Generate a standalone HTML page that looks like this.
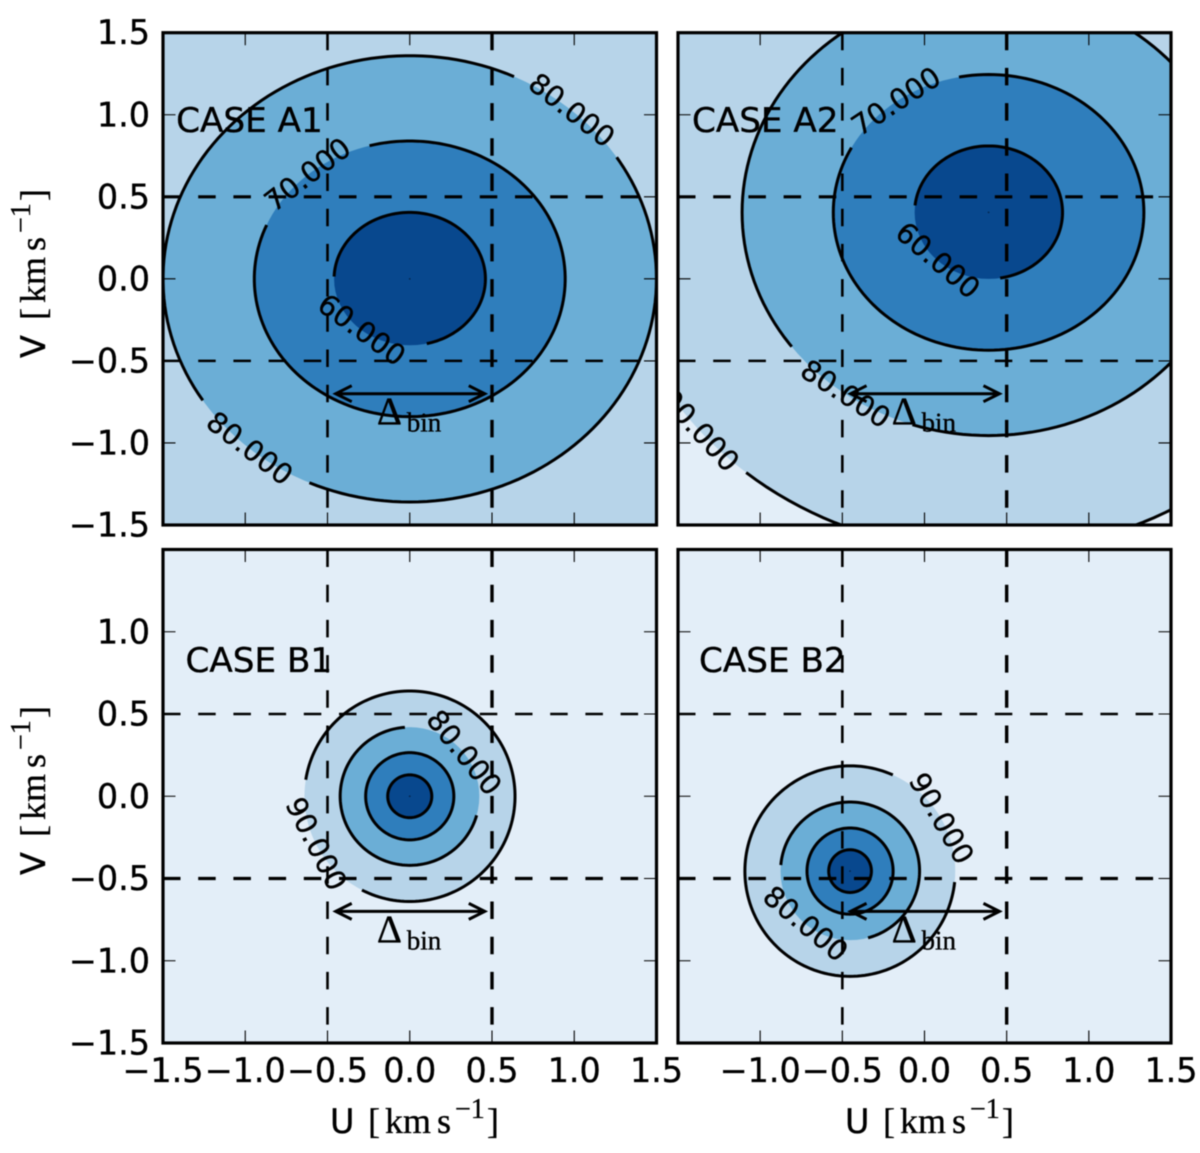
<!DOCTYPE html>
<html lang="en">
<head>
<meta charset="utf-8">
<title>Velocity distribution contour panels</title>
<style>
html,body{margin:0;padding:0;background:#fff;width:1200px;height:1153px;overflow:hidden}
svg{display:block;filter:blur(0.45px)}
text{stroke:#000;stroke-width:0.35px}
.tick{font-family:"DejaVu Sans","Liberation Sans",sans-serif;font-size:33.4px;fill:#000}
.case{font-family:"DejaVu Sans","Liberation Sans",sans-serif;font-size:34.2px;fill:#000}
.clab{font-family:"DejaVu Sans","Liberation Sans",sans-serif;font-size:28.5px;fill:#000}
.roman{font-family:"DejaVu Sans","Liberation Sans",sans-serif;font-size:33.4px;fill:#000}
.serif{font-family:"Liberation Serif",serif;fill:#000}
</style>
</head>
<body>
<svg id="chart" xmlns="http://www.w3.org/2000/svg" width="1200" height="1153" viewBox="0 0 1200 1153">
  <rect x="0" y="0" width="1200" height="1153" fill="#fff"/>
</svg>
<script>
// ---- chart data (data units: km/s, contour levels, ellipse angles in degrees) ----
const levelValues = [90, 80, 70, 60];
const levelColors = ['#b7d4e9', '#6baed6', '#2f7ebc', '#08488e'];
const backgroundColor = '#e3eef8';

const caseA1Center = [0, 0];
const caseA1Rx = [2.295, 1.5, 0.945, 0.46];
const caseA1Ry = [2.07, 1.36, 0.84, 0.405];
const caseA1Gaps = [[], [[33, 65], [213, 246]], [[105, 157]], [[178, 283]]];

const caseA2Center = [0.39, 0.405];
const caseA2Rx = [2.295, 1.5, 0.945, 0.45];
const caseA2Ry = [2.07, 1.36, 0.84, 0.405];
const caseA2Gaps = [[[210, 230]], [[217, 252]], [[101, 152]], [[174, 279]]];

const caseB1Center = [0, 0];
const caseB1Rx = [0.64, 0.423, 0.268, 0.134];
const caseB1Ry = [0.64, 0.42, 0.265, 0.13];
const caseB1Gaps = [[[171, 243]], [[344, 454]], [], []];

const caseB2Center = [-0.453, -0.455];
const caseB2Rx = [0.64, 0.423, 0.262, 0.13];
const caseB2Ry = [0.64, 0.42, 0.262, 0.13];
const caseB2Gaps = [[[-6, 66]], [[175, 285]], [], []];

const tickValues = [-1.0, -0.5, 0, 0.5, 1.0];
const guideValues = [-0.5, 0.5];
const yLabelsTop = [1.5, 1.0, 0.5, 0, -0.5, -1.0, -1.5];
const yLabelsBottom = [1.0, 0.5, 0, -0.5, -1.0, -1.5];
const xLabelsLeft = [-1.5, -1.0, -0.5, 0, 0.5, 1.0, 1.5];
const xLabelsRight = [-1.0, -0.5, 0, 0.5, 1.0, 1.5];
const binArrowU = [-0.45, 0.456];
const binArrowV = -0.7;

const panels = [
  {id:'a1', title:'CASE A1', x:163, y:32.7, w:493.5, h:492.3, heavyGuide:0.5, center:caseA1Center, rx:caseA1Rx, ry:caseA1Ry, gaps:caseA1Gaps, titlePos:[-1.42, 0.896], yLabels:yLabelsTop, xLabels:[]},
  {id:'a2', title:'CASE A2', x:678, y:32.7, w:493, h:492.3, heavyGuide:0.5, center:caseA2Center, rx:caseA2Rx, ry:caseA2Ry, gaps:caseA2Gaps, titlePos:[-1.415, 0.896], yLabels:[], xLabels:[]},
  {id:'b1', title:'CASE B1', x:163, y:549.5, w:493.5, h:493.5, heavyGuide:-0.5, center:caseB1Center, rx:caseB1Rx, ry:caseB1Ry, gaps:caseB1Gaps, titlePos:[-1.363, 0.755], yLabels:yLabelsBottom, xLabels:xLabelsLeft},
  {id:'b2', title:'CASE B2', x:678, y:549.5, w:493, h:493.5, heavyGuide:-0.5, center:caseB2Center, rx:caseB2Rx, ry:caseB2Ry, gaps:caseB2Gaps, titlePos:[-1.372, 0.755], yLabels:[], xLabels:xLabelsRight}
];

const NS = 'http://www.w3.org/2000/svg';
const svg = document.getElementById('chart');
function mk(tag, attrs, parent, txt) {
  const e = document.createElementNS(NS, tag);
  for (const k in attrs) e.setAttribute(k, attrs[k]);
  if (txt !== undefined) e.textContent = txt;
  (parent || svg).appendChild(e);
  return e;
}
function fmt(v) { return v.toFixed(1).replace('-', '\u2212'); }
function xScale(p, u) { return p.x + (u + 1.5) * p.w / 3; }
function yScale(p, v) { return p.y + (1.5 - v) * p.h / 3; }
function ellipsePoint(p, i, deg) {
  const t = deg * Math.PI / 180;
  return [xScale(p, p.center[0] + p.rx[i] * Math.cos(t)), yScale(p, p.center[1] + p.ry[i] * Math.sin(t))];
}
function arcPath(p, i, from, to) {
  let d = '';
  for (let a = from; a < to; a += 2) {
    const q = ellipsePoint(p, i, a);
    d += (d ? 'L' : 'M') + q[0].toFixed(2) + ' ' + q[1].toFixed(2);
  }
  const e = ellipsePoint(p, i, to);
  return d + 'L' + e[0].toFixed(2) + ' ' + e[1].toFixed(2);
}

const defs = mk('defs', {});
panels.forEach(function (p) {
  const cp = mk('clipPath', {id: 'clip-' + p.id}, defs);
  mk('rect', {x: p.x, y: p.y, width: p.w, height: p.h}, cp);

  const group = mk('g', {});
  
  

  const inner = mk('g', {'clip-path': 'url(#clip-' + p.id + ')'}, group);
  
  

  const bg = mk('rect', {x: p.x, y: p.y, width: p.w, height: p.h, fill: backgroundColor}, inner);
  
  

  // filled contour bands
  levelValues.forEach(function (lev, i) {
    const f = mk('ellipse', {
      cx: xScale(p, p.center[0]), cy: yScale(p, p.center[1]),
      rx: p.rx[i] * p.w / 3, ry: p.ry[i] * p.h / 3, fill: levelColors[i]
    }, inner);
    
    
  });

  // contour lines with gaps for labels
  levelValues.forEach(function (lev, i) {
    const gaps = p.gaps[i];
    let d = '';
    if (!gaps.length) {
      d = arcPath(p, i, 0, 360) + 'Z';
    } else {
      gaps.forEach(function (g, k) {
        const next = k + 1 < gaps.length ? gaps[k + 1][0] : gaps[0][0] + 360;
        d += arcPath(p, i, g[1], next);
      });
    }
    const line = mk('path', {d: d, fill: 'none', stroke: '#000', 'stroke-width': 3}, inner);
    
    
  });

  // centre point
  const dot = mk('circle', {cx: xScale(p, p.center[0]), cy: yScale(p, p.center[1]), r: 0.9, fill: '#05264d'}, inner);
  
  

  // bin guide lines
  guideValues.forEach(function (v) {
    const h = mk('line', {x1: p.x, x2: p.x + p.w, y1: yScale(p, v), y2: yScale(p, v), stroke: '#000', 'stroke-width': v === p.heavyGuide ? 3.2 : 2.5, 'stroke-dasharray': '17.5 17.7'}, inner);
    
    
    const w = mk('line', {x1: xScale(p, v), x2: xScale(p, v), y1: p.y, y2: p.y + p.h, stroke: '#000', 'stroke-width': v > 0 ? 3.4 : 2.6, 'stroke-dasharray': '17.5 17.7'}, inner);
    
    
  });

  // contour labels placed at each gap midpoint, along the contour tangent
  levelValues.forEach(function (lev, i) {
    p.gaps[i].forEach(function (g) {
      const mid = (g[0] + g[1]) / 2;
      const t = mid * Math.PI / 180;
      const q = ellipsePoint(p, i, mid);
      let ang = Math.atan2(-p.ry[i] * Math.cos(t), -p.rx[i] * Math.sin(t)) * 180 / Math.PI;
      if (ang > 90) ang -= 180;
      if (ang <= -90) ang += 180;
      const lbl = mk('text', {
        class: 'clab', x: q[0], y: q[1], 'text-anchor': 'middle', 'dominant-baseline': 'central',
        transform: 'rotate(' + ang.toFixed(1) + ' ' + q[0].toFixed(1) + ' ' + q[1].toFixed(1) + ')'
      }, inner, lev.toFixed(3));
      
      
    });
  });

  // bin width arrow
  const ay = yScale(p, binArrowV), a0 = xScale(p, binArrowU[0]), a1 = xScale(p, binArrowU[1]);
  const arrow = mk('path', {
    d: 'M' + a0 + ' ' + ay + 'L' + a1 + ' ' + ay +
       'M' + (a0 + 16) + ' ' + (ay - 8) + 'L' + a0 + ' ' + ay + 'L' + (a0 + 16) + ' ' + (ay + 8) +
       'M' + (a1 - 16) + ' ' + (ay - 8) + 'L' + a1 + ' ' + ay + 'L' + (a1 - 16) + ' ' + (ay + 8),
    fill: 'none', stroke: '#000', 'stroke-width': 3
  }, group);
  
  

  const dl = mk('text', {class: 'serif', x: xScale(p, -0.2), y: ay + 30.5, 'font-size': 39}, group, '\u0394');
  
  
  const bn = mk('text', {class: 'serif', x: xScale(p, -0.018), y: ay + 38, 'font-size': 27}, group, 'bin');
  
  

  // case title
  const ttl = mk('text', {class: 'case', x: xScale(p, p.titlePos[0]), y: yScale(p, p.titlePos[1])}, group, p.title);
  
  

  // tick marks on all four sides
  tickValues.forEach(function (v) {
    const tl = 12.5;
    const sx = xScale(p, v), sy = yScale(p, v);
    const d = 'M' + sx + ' ' + p.y + 'V' + (p.y + tl) + 'M' + sx + ' ' + (p.y + p.h) + 'V' + (p.y + p.h - tl) +
              'M' + p.x + ' ' + sy + 'H' + (p.x + tl) + 'M' + (p.x + p.w) + ' ' + sy + 'H' + (p.x + p.w - tl);
    const tk = mk('path', {d: d, stroke: '#000', 'stroke-width': 1.1, fill: 'none'}, group);
    
    
  });

  // tick labels
  p.yLabels.forEach(function (v) {
    const yl = mk('text', {class: 'tick', x: p.x - 13, y: yScale(p, v) + 11.5, 'text-anchor': 'end'}, group, fmt(v));
    
    
  });
  p.xLabels.forEach(function (v) {
    const xl = mk('text', {class: 'tick', x: xScale(p, v), y: 1082, 'text-anchor': 'middle'}, group, fmt(v));
    
    
  });

  // spines
  const sp = mk('rect', {x: p.x, y: p.y, width: p.w, height: p.h, fill: 'none', stroke: '#000', 'stroke-width': 3.2}, group);
  
  
});

// axis titles, shared layout along the baseline
function axisTitle(letter, transform, name) {
  const g = mk('g', {transform: transform});
  
  
  mk('text', {class: 'roman', x: 0, y: 0}, g, letter);
  mk('text', {class: 'serif', x: 38, y: 0, 'font-size': 36}, g, '[');
  mk('text', {class: 'serif', x: 55, y: 0, 'font-size': 36}, g, 'km');
  mk('text', {class: 'serif', x: 107, y: 0, 'font-size': 36}, g, 's');
  mk('text', {class: 'serif', x: 125, y: -15, 'font-size': 28}, g, '\u22121');
  mk('text', {class: 'serif', x: 157, y: 0, 'font-size': 36}, g, ']');
}
axisTitle('U', 'translate(330 1133)', 'x-axis-title-left');
axisTitle('U', 'translate(845 1133)', 'x-axis-title-right');
axisTitle('V', 'translate(45 358) rotate(-90)', 'y-axis-title-top');
axisTitle('V', 'translate(45 875) rotate(-90)', 'y-axis-title-bottom');
</script>
</body>
</html>
